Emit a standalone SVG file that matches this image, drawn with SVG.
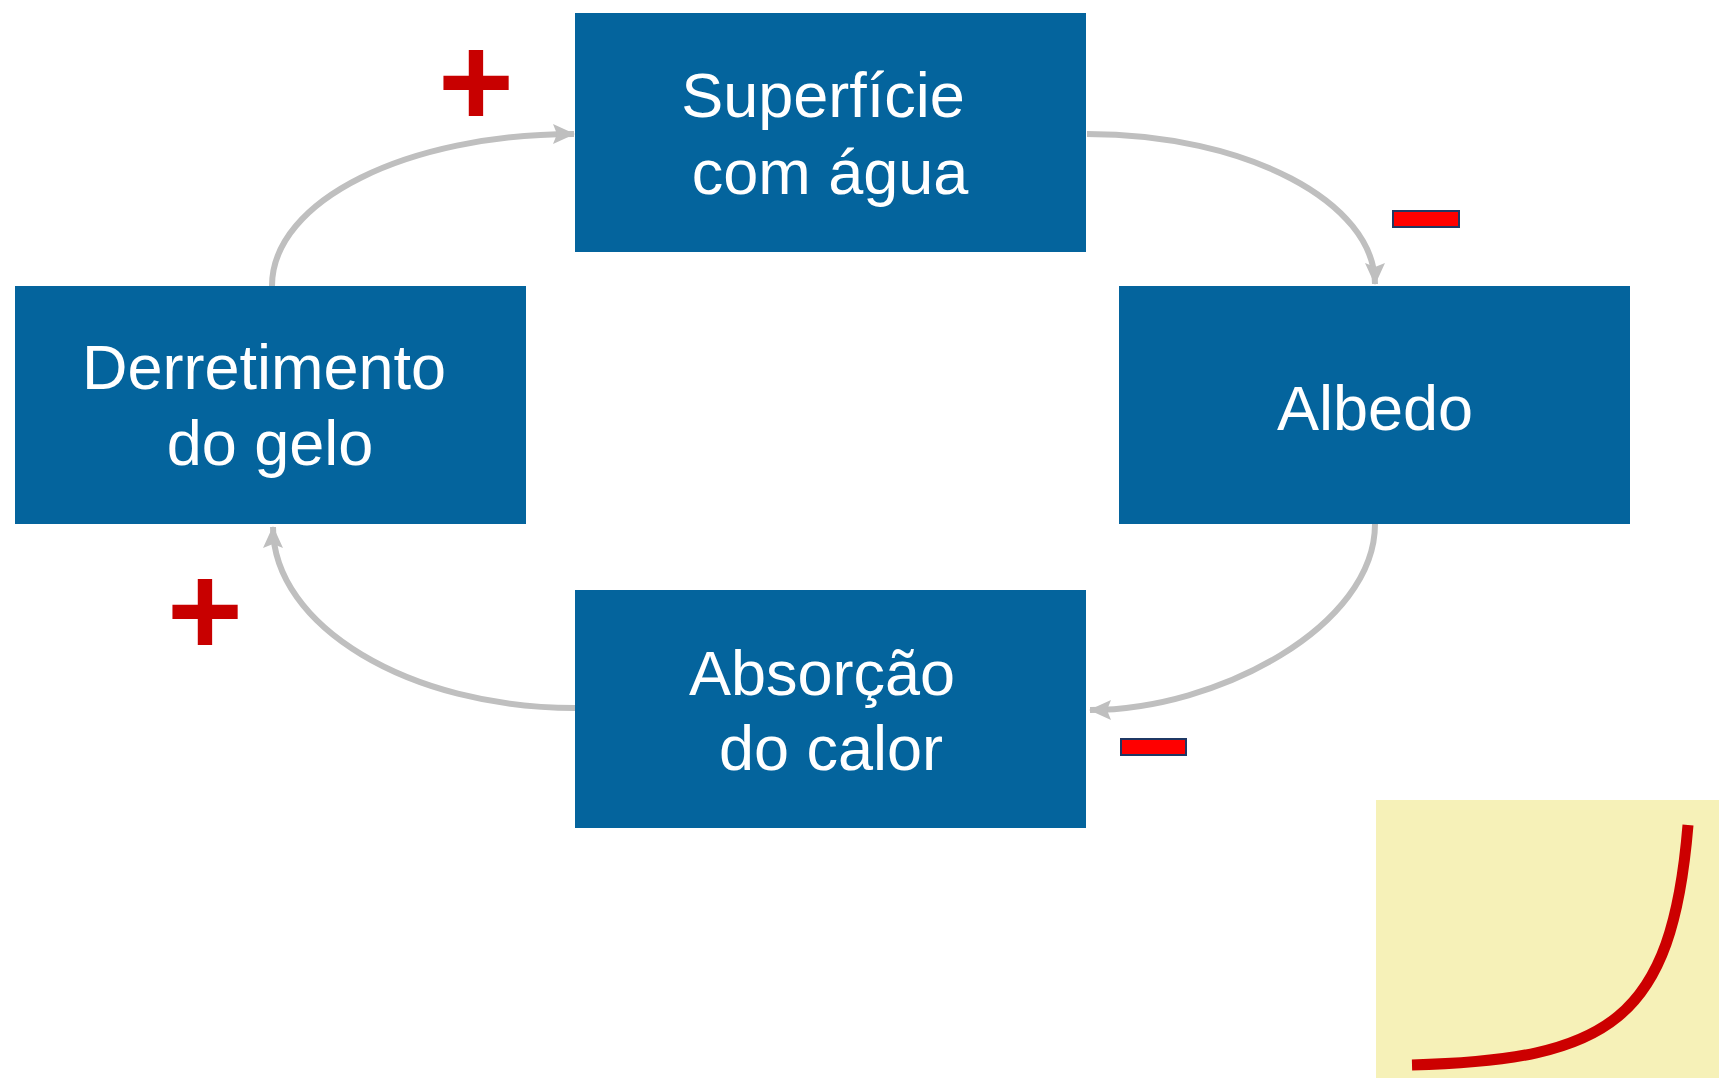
<svg xmlns="http://www.w3.org/2000/svg" width="1719" height="1078" viewBox="0 0 1719 1078">
<style>
.box{fill:#04649D;}
.lbl{fill:#FFFFFF;font-family:"Liberation Sans",Arial,sans-serif;font-size:63px;text-anchor:middle;}
.conn{fill:none;stroke:#BFBFBF;stroke-width:6;marker-end:url(#ah);}
.plus{fill:#C80000;font-family:"Liberation Sans",Arial,sans-serif;font-weight:bold;font-size:130px;text-anchor:middle;}
.minus{fill:#FF0000;stroke:#1F3864;stroke-width:2;}
</style>
<defs>
<marker id="ah" markerUnits="userSpaceOnUse" viewBox="0 0 22 20" markerWidth="22" markerHeight="20" refX="21" refY="10" orient="auto">
<path d="M0,0 L22,10 L0,20 L4,10 Z" fill="#BFBFBF"/>
</marker>
</defs>
<rect width="1719" height="1078" fill="#FFFFFF"/>
<g id="connectors">
<path class="conn" d="M272,286 C272,200 408,134 574,134"/>
<path class="conn" d="M1087,134 C1246,134 1375,202 1375,284"/>
<path class="conn" d="M1375,524 C1375,626 1218,710 1090,710"/>
<path class="conn" d="M575,708 C409,708 273,626 273,527"/>
</g>
<g id="node-superficie">
<rect class="box" x="575" y="13" width="511" height="239"/>
<text class="lbl" x="823" y="117">Superfície</text>
<text class="lbl" x="830" y="194">com água</text>
</g>
<g id="node-derretimento">
<rect class="box" x="15" y="286" width="511" height="238"/>
<text class="lbl" x="264" y="389">Derretimento</text>
<text class="lbl" x="270" y="465">do gelo</text>
</g>
<g id="node-albedo">
<rect class="box" x="1119" y="286" width="511" height="238"/>
<text class="lbl" x="1375" y="430">Albedo</text>
</g>
<g id="node-absorcao">
<rect class="box" x="575" y="590" width="511" height="238"/>
<text class="lbl" x="822" y="695">Absorção</text>
<text class="lbl" x="831" y="770">do calor</text>
</g>
<g id="signs">
<text class="plus" x="476" y="126">+</text>
<text class="plus" x="205" y="655">+</text>
<rect class="minus" x="1393" y="211" width="66" height="16"/>
<rect class="minus" x="1121" y="739" width="65" height="16"/>
</g>
<g id="graph-inset">
<rect x="1376" y="800" width="343" height="278" fill="#F6F1B8"/>
<path d="M1412,1065 C1610,1060 1672,1020 1688,825" fill="none" stroke="#CC0000" stroke-width="11"/>
</g>
</svg>
